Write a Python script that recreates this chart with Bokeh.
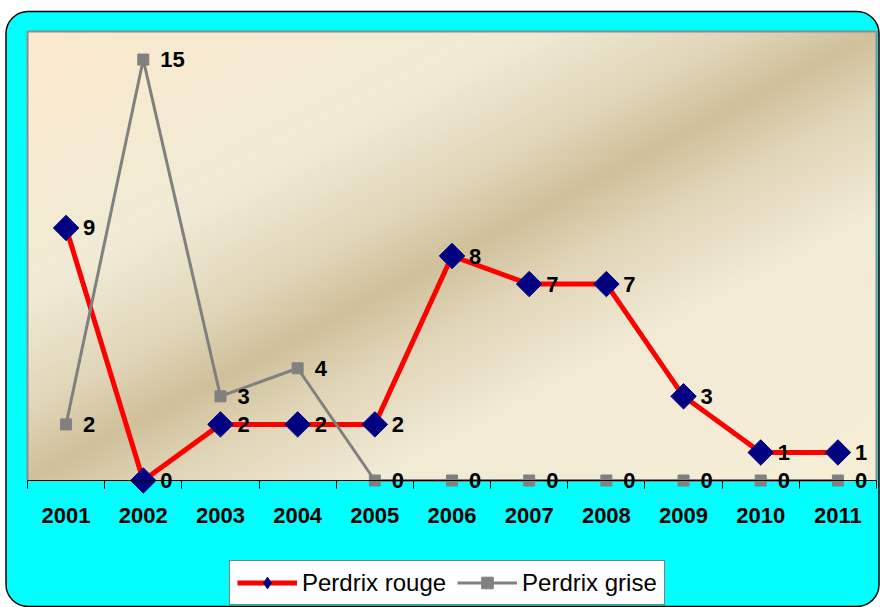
import numpy as np
from bokeh.plotting import figure
from bokeh.models import (ColumnDataSource, FixedTicker, Legend, LegendItem,
                          BoxAnnotation, Range1d, LinearAxis)
from bokeh.core.properties import value
from bokeh.embed import file_html
from bokeh.resources import INLINE

# ---- data ----
years = [2001, 2002, 2003, 2004, 2005, 2006, 2007, 2008, 2009, 2010, 2011]
year_labels = ["2001", "2002", "2003", "2004", "2005", "2006", "2007", "2008", "2009", "2010", "2011"]
perdrix_rouge = [9, 0, 2, 2, 2, 8, 7, 7, 3, 1, 1]
perdrix_grise = [2, 15, 3, 4, 0, 0, 0, 0, 0, 0, 0]
series_names = ["Perdrix rouge", "Perdrix grise"]

FONT = "Liberation Sans"

# ---- layout (pixels) ----
W, H = 880, 607
PX_L, PX_R, PX_T, PX_B = 27, 876, 31, 480

x0, x1 = years[0] - 0.5, years[-1] + 0.5
y0, y1 = 0, 16
sx = (PX_R - PX_L) / (x1 - x0)
sy = (PX_B - PX_T) / (y1 - y0)
xr = Range1d(x0 - PX_L / sx, x1 + (W - PX_R) / sx)
yr = Range1d(y0 - (H - PX_B) / sy, y1 + PX_T / sy)

p = figure(width=W, height=H, output_backend="svg", toolbar_location=None,
           x_range=xr, y_range=yr, x_axis_location=None, y_axis_location=None,
           min_border=0, min_border_left=0, min_border_right=0,
           min_border_top=0, min_border_bottom=0,
           border_fill_color="white", background_fill_color="white")
p.grid.visible = False
p.outline_line_color = None

# cyan rounded panel behind everything
panel = BoxAnnotation(left=5.5, right=878.5, top=11, bottom=606,
                      left_units="canvas", right_units="canvas",
                      top_units="canvas", bottom_units="canvas",
                      fill_color="#00ffff", fill_alpha=1.0,
                      line_color="black", line_alpha=1.0, line_width=1.5,
                      border_radius=22, level="underlay")
p.add_layout(panel)

# plot area diagonal gradient: tan band along the rising diagonal, cream toward corners
GW, GH = 400, 220
u = np.linspace(0, 1, GW)[None, :]
v = np.linspace(0, 1, GH)[:, None]
d = v - u
a = np.abs(d)
stops = [0.0, 0.15, 0.4, 1.0]
tl = [(208, 193, 155), (224, 213, 183), (240, 234, 213), (252, 235, 205)]
br = [(208, 193, 155), (224, 213, 183), (241, 234, 213), (247, 238, 214)]
img = np.empty((GH, GW), dtype=np.uint32)
view = img.view(dtype=np.uint8).reshape((GH, GW, 4))
for c in range(3):
    ctl = np.interp(a, stops, [t[c] for t in tl])
    cbr = np.interp(a, stops, [t[c] for t in br])
    view[..., c] = np.where(d > 0, ctl, cbr).astype(np.uint8)
view[..., 3] = 255
p.image_rgba(image=[img], x=x0, y=y0, dw=x1 - x0, dh=y1 - y0)

# plot-area border (left, top, right)
p.line(x=[x0, x0, x1, x1], y=[y0, y1, y1, y0], line_color="#8c8c8c", line_width=2)

src_r = ColumnDataSource(dict(x=years, y=perdrix_rouge, t=[str(v) for v in perdrix_rouge]))
src_g = ColumnDataSource(dict(x=years, y=perdrix_grise, t=[str(v) for v in perdrix_grise]))

xa = LinearAxis(fixed_location=0, bounds=(x0, x1))
xa.ticker = FixedTicker(ticks=years, minor_ticks=[y - 0.5 for y in years] + [years[-1] + 0.5])
xa.major_label_overrides = {y: lab for y, lab in zip(years, year_labels)}
xa.major_tick_out = 0
xa.major_tick_in = 0
xa.minor_tick_out = 8
xa.minor_tick_in = 0
xa.minor_tick_line_color = "black"
xa.axis_line_color = "black"
xa.axis_line_width = 1
xa.major_label_standoff = 19
xa.major_label_text_font = FONT
xa.major_label_text_font_style = "bold"
xa.major_label_text_font_size = "22px"
xa.major_label_text_color = "black"
p.add_layout(xa, "below")

r_line = p.line("x", "y", source=src_r, line_color="#ff0000", line_width=5)
# diamond symbol (used for the legend; hidden under the larger rotated squares)
r_leg = p.scatter("x", "y", source=src_r, marker="diamond", size=20,
                  fill_color="#000080", line_color="#000080")
r_pts = p.scatter("x", "y", source=src_r, marker="square", angle=np.pi / 4,
                  size=18, fill_color="#000080", line_color="#000080")
g_line = p.line("x", "y", source=src_g, line_color="#808080", line_width=3)
g_pts = p.scatter("x", "y", source=src_g, marker="square", size=11,
                  fill_color="#808080", line_color="#808080")

for src in (src_r, src_g):
    p.text("x", "y", text="t", source=src, x_offset=17, text_align="left",
           text_baseline="middle", text_font=value(FONT), text_font_style="bold",
           text_font_size="22px", text_color="black")

legend = Legend(items=[LegendItem(label=series_names[0], renderers=[r_line, r_leg]),
                       LegendItem(label=series_names[1], renderers=[g_line, g_pts])],
                orientation="horizontal", location=(229, 2),
                label_text_font=FONT, label_text_font_size="24px",
                label_text_color="black",
                glyph_width=60, glyph_height=29, label_standoff=5, spacing=11,
                padding=7, margin=0,
                border_line_color="black", border_line_width=1,
                background_fill_color="white", background_fill_alpha=1.0)
p.add_layout(legend, "center")

open("out.html", "w").write(file_html(p, INLINE))
